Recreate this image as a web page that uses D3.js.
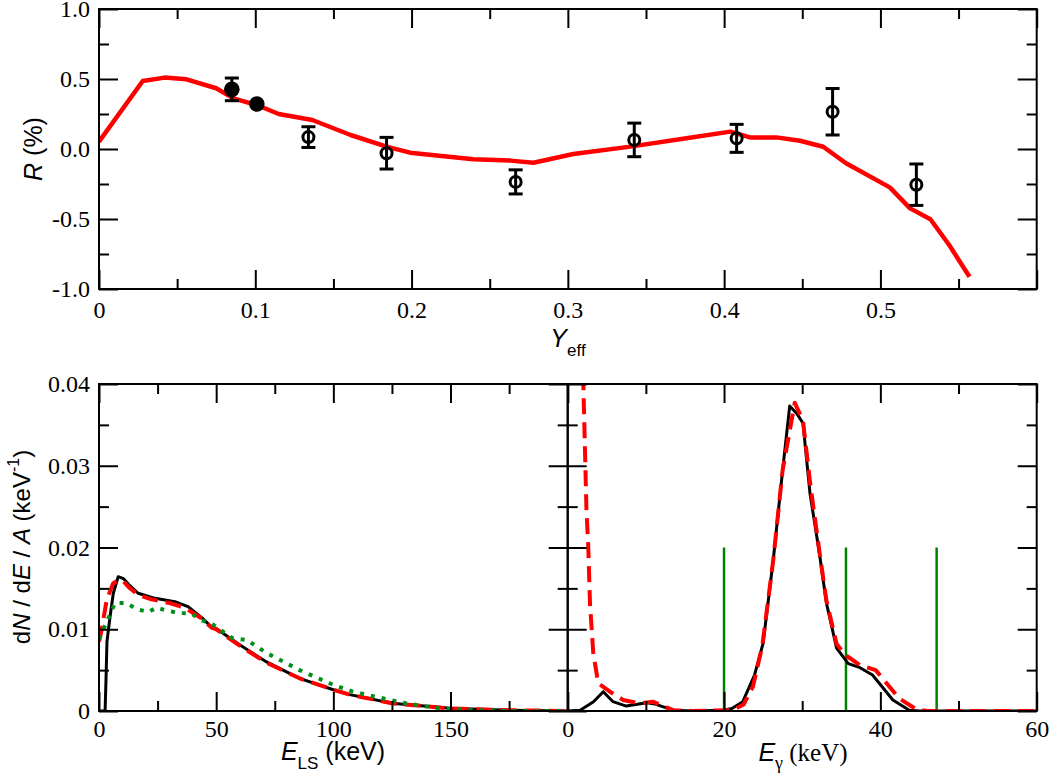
<!DOCTYPE html>
<html>
<head>
<meta charset="utf-8">
<script src="https://cdn.jsdelivr.net/npm/d3@7"></script>
<style>
  body { margin: 0; background: #fff; }
  .title { font-family: "Liberation Sans", Arial, sans-serif; font-size: 25px; fill: #000; }
</style>
</head>
<body>
<svg id="chart" width="1050" height="784"></svg>
<script>
// ---------------- top panel: R (%) vs Yeff ----------------
const modelYeff = [0, 0.028, 0.042, 0.056, 0.075, 0.086, 0.101, 0.115, 0.1365, 0.161, 0.184, 0.199, 0.2395, 0.263, 0.278, 0.3035, 0.34, 0.378, 0.404, 0.4165, 0.4335, 0.4485, 0.4634, 0.478, 0.506, 0.519, 0.532, 0.544, 0.557]
const modelR = [0.052, 0.486, 0.51, 0.498, 0.434, 0.362, 0.314, 0.25, 0.207, 0.10, 0.017, -0.026, -0.074, -0.083, -0.098, -0.036, 0.017, 0.08, 0.124, 0.083, 0.083, 0.059, 0.016, -0.102, -0.274, -0.424, -0.502, -0.686, -0.912]

const filledYeff = [0.085, 0.101]
const filledR = [0.426, 0.321]
const filledErr = [0.081, 0]

const openYeff = [0.134, 0.184, 0.2666, 0.3425, 0.408, 0.4694, 0.523]
const openR = [0.085, -0.03, -0.235, 0.065, 0.076, 0.266, -0.255]
const openErr = [0.074, 0.113, 0.086, 0.12, 0.1, 0.166, 0.148]

const topXMajor = [0, 0.1, 0.2, 0.3, 0.4, 0.5, 0.6]
const topXLabels = ["0", "0.1", "0.2", "0.3", "0.4", "0.5", ""]
const topXMinor = [0.05, 0.15, 0.25, 0.35, 0.45, 0.55]
const topYMajor = [-1, -0.5, 0, 0.5, 1]
const topYLabels = ["-1.0", "-0.5", "0.0", "0.5", "1.0"]
const topYMinor = [-0.75, -0.25, 0.25, 0.75]

// ---------------- bottom left: spectrum vs E_LS ----------------
const lsBlackE = [0, 2.6, 3.0, 3.4, 4.7, 6.1, 8.2, 10.4, 12.5, 16.7, 23.9, 32.4, 38, 43.7, 48, 50, 60, 71.5, 85.6, 100, 107, 125, 150, 175, 200]
const lsBlackV = [0, 0, 0.004, 0.0085, 0.0115, 0.0144, 0.01643, 0.0162, 0.01553, 0.0144, 0.01378, 0.01337, 0.01276, 0.01146, 0.0103, 0.0101, 0.0081, 0.006, 0.004, 0.0026, 0.002, 0.00094, 0.00033, 0.0001, 0]

const lsRedE = [0, 1.1, 3.3, 6, 8.2, 10.3, 12.5, 16.7, 22.4, 29.5, 36.6, 43.7, 48, 50, 60, 71.5, 85.6, 100, 107, 125, 150, 175, 200]
const lsRedV = [0.0085, 0.0099, 0.0136, 0.0156, 0.016, 0.0159, 0.0152, 0.0142, 0.01366, 0.01325, 0.01264, 0.01134, 0.0102, 0.0100, 0.0080, 0.0059, 0.0040, 0.0026, 0.002, 0.00095, 0.0003, 0.0001, 0]

const lsGreenE = [0, 3.3, 6.8, 11.8, 16, 21, 24.6, 28, 33.8, 39.5, 43.7, 48, 50, 57, 63, 71.5, 85.6, 100, 108, 117, 131, 145, 159, 175, 200]
const lsGreenV = [0.0088, 0.0109, 0.0132, 0.0132, 0.01248, 0.0121, 0.01264, 0.01235, 0.012, 0.0119, 0.0111, 0.0107, 0.0103, 0.0089, 0.0087, 0.0071, 0.005, 0.0032, 0.0024, 0.0018, 0.00094, 0.00033, 0.0001, 0, 0]

const lsXMajor = [0, 50, 100, 150, 200]
const lsXLabels = ["0", "50", "100", "150", ""]
const lsXMinor = [25, 75, 125, 175]

// ---------------- bottom right: spectrum vs E_gamma ----------------
const gBlackE = [0, 1.6, 3.3, 4.55, 5.8, 7.5, 10.1, 11, 13.5, 16, 19.9, 21, 22.4, 23.9, 25, 26.3, 27.5, 28.4, 29.3, 30.1, 31, 32.2, 33.1, 34.4, 35.9, 37.4, 39, 41.6, 43.7, 45, 60]
const gBlackV = [0, 0.0001, 0.00114, 0.00236, 0.00114, 0.0006, 0.001, 0.0009, 0.0001, 0, 0.0001, 0.0003, 0.00114, 0.0044, 0.0083, 0.0185, 0.0295, 0.0373, 0.0364, 0.0352, 0.0266, 0.0193, 0.0132, 0.0077, 0.0058, 0.0053, 0.0044, 0.00135, 0.0001, 0, 0]

const gRedE = [1.8, 2.0, 2.4, 2.63, 2.85, 3.27, 3.9, 5.4, 7.1, 9.2, 10.9, 12, 13.5, 16, 21.1, 22.5, 23.7, 24.9, 26.3, 27.5, 29.05, 30.1, 31, 32.2, 33.1, 34.4, 35.6, 37.4, 39.4, 42.4, 44.6, 46, 60]
const gRedV = [0.05, 0.04, 0.0246, 0.0201, 0.0132, 0.0071, 0.0034, 0.00236, 0.00135, 0.00094, 0.00114, 0.0007, 0.0001, 0, 0.0001, 0.0008, 0.003, 0.008, 0.0185, 0.0295, 0.0377, 0.0355, 0.028, 0.0195, 0.0135, 0.0082, 0.0068, 0.0056, 0.005, 0.00155, 0.0002, 0, 0]

const gLines = [20, 35.6, 47.2]
const gLineTop = 0.02

const gXMajor = [0, 20, 40, 60]
const gXLabels = ["0", "20", "40", "60"]
const gXMinor = [10, 30, 50]

const bYMajor = [0, 0.01, 0.02, 0.03, 0.04]
const bYLabels = ["0", "0.01", "0.02", "0.03", "0.04"]
const bYMinor = [0.005, 0.015, 0.025, 0.035]

// ---------------- scales ----------------
let svg = d3.select("#chart")

let xTop = d3.scaleLinear().domain([0, 0.6]).range([99, 1036.7])
let yTop = d3.scaleLinear().domain([-1, 1]).range([289, 9])
let xLS = d3.scaleLinear().domain([0, 200]).range([99, 567.7])
let xG = d3.scaleLinear().domain([0, 60]).range([567.7, 1036.7])
let yB = d3.scaleLinear().domain([0, 0.04]).range([711, 384])

// draws inward ticks on all four sides plus the frame
function frame(x, y, o) {
  let x0 = x.range()[0], x1 = x.range()[1]
  let y0 = y.range()[1], y1 = y.range()[0]
  let g = svg.append("g")
  let blank = function() { return "" }

  g.append("g").attr("transform", "translate(0," + y1 + ")")
    .call(d3.axisBottom(x).tickValues(o.xMajor).tickSize(-19).tickSizeOuter(0).tickPadding(o.xPad)
      .tickFormat(function(d, i) { return o.xLabels[i] }))
  g.append("g").attr("transform", "translate(0," + y1 + ")")
    .call(d3.axisBottom(x).tickValues(o.xMinor).tickSize(-10).tickSizeOuter(0).tickFormat(blank))
  g.append("g").attr("transform", "translate(0," + y0 + ")")
    .call(d3.axisTop(x).tickValues(o.xMajor).tickSize(-19).tickSizeOuter(0).tickFormat(blank))
  g.append("g").attr("transform", "translate(0," + y0 + ")")
    .call(d3.axisTop(x).tickValues(o.xMinor).tickSize(-10).tickSizeOuter(0).tickFormat(blank))

  g.append("g").attr("transform", "translate(" + x0 + ",0)")
    .call(d3.axisLeft(y).tickValues(o.yMajor).tickSize(-19).tickSizeOuter(0).tickPadding(9)
      .tickFormat(function(d, i) { return o.yLabels ? o.yLabels[i] : "" }))
  g.append("g").attr("transform", "translate(" + x0 + ",0)")
    .call(d3.axisLeft(y).tickValues(o.yMinor).tickSize(-10).tickSizeOuter(0).tickFormat(blank))
  g.append("g").attr("transform", "translate(" + x1 + ",0)")
    .call(d3.axisRight(y).tickValues(o.yMajor).tickSize(-19).tickSizeOuter(0).tickFormat(blank))
  g.append("g").attr("transform", "translate(" + x1 + ",0)")
    .call(d3.axisRight(y).tickValues(o.yMinor).tickSize(-10).tickSizeOuter(0).tickFormat(blank))

  g.selectAll(".domain").remove()
  g.selectAll(".tick line").attr("stroke", "#000").attr("stroke-width", 2)
  g.selectAll("g")
    .attr("font-family", "Liberation Serif")
    .attr("font-size", 24)
  g.selectAll(".tick text").attr("fill", "#000")

  g.append("rect")
    .attr("x", x0).attr("y", y0)
    .attr("width", x1 - x0).attr("height", y1 - y0)
    .attr("fill", "none").attr("stroke", "#000").attr("stroke-width", 2)
}

function clip(id, x, y) {
  svg.append("clipPath").attr("id", id).append("rect")
    .attr("x", x.range()[0]).attr("y", y.range()[1])
    .attr("width", x.range()[1] - x.range()[0])
    .attr("height", y.range()[0] - y.range()[1])
}

clip("clipTop", xTop, yTop)
clip("clipLS", xLS, yB)
clip("clipG", xG, yB)

function series(xs, ys) {
  return xs.map(function(d, i) { return [d, ys[i]] })
}

function drawLine(clipId, x, y, data, color, width, dash) {
  let line = d3.line()
    .x(function(d) { return x(d[0]) })
    .y(function(d) { return y(d[1]) })
  svg.append("path")
    .datum(data)
    .attr("clip-path", "url(#" + clipId + ")")
    .attr("d", line)
    .attr("fill", "none")
    .attr("stroke", color)
    .attr("stroke-width", width)
    .attr("stroke-linejoin", "round")
    .attr("stroke-dasharray", dash || null)
}

// ---------------- top panel ----------------
drawLine("clipTop", xTop, yTop, series(modelYeff, modelR), "#ff0000", 4.5)

function errorBars(xs, ys, errs) {
  let pts = series(xs, ys).map(function(d, i) { return { x: d[0], y: d[1], e: errs[i] } })
    .filter(function(d) { return d.e > 0 })
  let g = svg.append("g").attr("stroke", "#000").attr("stroke-width", 3)
  g.selectAll(".eb").data(pts).enter().append("line")
    .attr("x1", function(d) { return xTop(d.x) }).attr("x2", function(d) { return xTop(d.x) })
    .attr("y1", function(d) { return yTop(d.y + d.e) }).attr("y2", function(d) { return yTop(d.y - d.e) })
  g.selectAll(".capT").data(pts).enter().append("line")
    .attr("x1", function(d) { return xTop(d.x) - 7 }).attr("x2", function(d) { return xTop(d.x) + 7 })
    .attr("y1", function(d) { return yTop(d.y + d.e) }).attr("y2", function(d) { return yTop(d.y + d.e) })
  g.selectAll(".capB").data(pts).enter().append("line")
    .attr("x1", function(d) { return xTop(d.x) - 7 }).attr("x2", function(d) { return xTop(d.x) + 7 })
    .attr("y1", function(d) { return yTop(d.y - d.e) }).attr("y2", function(d) { return yTop(d.y - d.e) })
}

errorBars(filledYeff, filledR, filledErr)
errorBars(openYeff, openR, openErr)

svg.append("g").selectAll("circle")
  .data(series(filledYeff, filledR)).enter().append("circle")
  .attr("cx", function(d) { return xTop(d[0]) })
  .attr("cy", function(d) { return yTop(d[1]) })
  .attr("r", 7.8)
  .attr("fill", "#000")

svg.append("g").selectAll("circle")
  .data(series(openYeff, openR)).enter().append("circle")
  .attr("cx", function(d) { return xTop(d[0]) })
  .attr("cy", function(d) { return yTop(d[1]) })
  .attr("r", 5.5)
  .attr("fill", "none")
  .attr("stroke", "#000")
  .attr("stroke-width", 3)

frame(xTop, yTop, {
  xMajor: topXMajor, xMinor: topXMinor, xLabels: topXLabels, xPad: 12,
  yMajor: topYMajor, yMinor: topYMinor, yLabels: topYLabels
})

// ---------------- bottom panels ----------------
drawLine("clipLS", xLS, yB, series(lsBlackE, lsBlackV), "#000", 3)
drawLine("clipLS", xLS, yB, series(lsRedE, lsRedV), "#ff0000", 4, "16,8")
drawLine("clipLS", xLS, yB, series(lsGreenE, lsGreenV), "#00901a", 4, "4,7")

svg.append("g").selectAll("line")
  .data(gLines).enter().append("line")
  .attr("x1", function(d) { return xG(d) }).attr("x2", function(d) { return xG(d) })
  .attr("y1", yB(0)).attr("y2", yB(gLineTop))
  .attr("stroke", "#008000").attr("stroke-width", 2.5)

drawLine("clipG", xG, yB, series(gBlackE, gBlackV), "#000", 3)
drawLine("clipG", xG, yB, series(gRedE, gRedV), "#ff0000", 4, "16,8")

frame(xLS, yB, {
  xMajor: lsXMajor, xMinor: lsXMinor, xLabels: lsXLabels, xPad: 9,
  yMajor: bYMajor, yMinor: bYMinor, yLabels: bYLabels
})
frame(xG, yB, {
  xMajor: gXMajor, xMinor: gXMinor, xLabels: gXLabels, xPad: 9,
  yMajor: bYMajor, yMinor: bYMinor, yLabels: null
})

// ---------------- axis titles ----------------
let rTitle = svg.append("text").attr("class", "title")
  .attr("transform", "translate(42,149) rotate(-90)")
  .attr("text-anchor", "middle")
rTitle.append("tspan").attr("font-style", "italic").text("R")
rTitle.append("tspan").text(" (%)")

let yeffTitle = svg.append("text").attr("class", "title")
  .attr("x", 568).attr("y", 347)
  .attr("text-anchor", "middle")
yeffTitle.append("tspan").attr("font-style", "italic").text("Y")
yeffTitle.append("tspan").style("font-size", "17px").attr("dy", 9).text("eff")

let dnTitle = svg.append("text").attr("class", "title")
  .attr("transform", "translate(30,547) rotate(-90)")
  .attr("text-anchor", "middle")
  .style("font-size", "24px")
dnTitle.append("tspan").text("d")
dnTitle.append("tspan").attr("font-style", "italic").text("N")
dnTitle.append("tspan").text(" / d")
dnTitle.append("tspan").attr("font-style", "italic").text("E")
dnTitle.append("tspan").text(" / ")
dnTitle.append("tspan").attr("font-style", "italic").text("A")
dnTitle.append("tspan").text("  (keV")
dnTitle.append("tspan").style("font-size", "16px").attr("dy", -11).text("-1")
dnTitle.append("tspan").attr("dy", 11).text(")")

let lsTitle = svg.append("text").attr("class", "title")
  .attr("x", 333).attr("y", 760)
  .attr("text-anchor", "middle")
lsTitle.append("tspan").attr("font-style", "italic").text("E")
lsTitle.append("tspan").style("font-size", "17px").attr("dy", 9).text("LS")
lsTitle.append("tspan").attr("dy", -9).text(" (keV)")

let gTitle = svg.append("text").attr("class", "title")
  .attr("x", 803).attr("y", 761)
  .attr("text-anchor", "middle")
gTitle.append("tspan").attr("font-style", "italic").text("E")
gTitle.append("tspan").style("font-family", "'Liberation Serif', serif").style("font-size", "18px").attr("dy", 8).text("γ")
gTitle.append("tspan").style("font-family", "'Liberation Serif', serif").attr("dy", -8).text(" (keV)")
</script>
</body>
</html>
